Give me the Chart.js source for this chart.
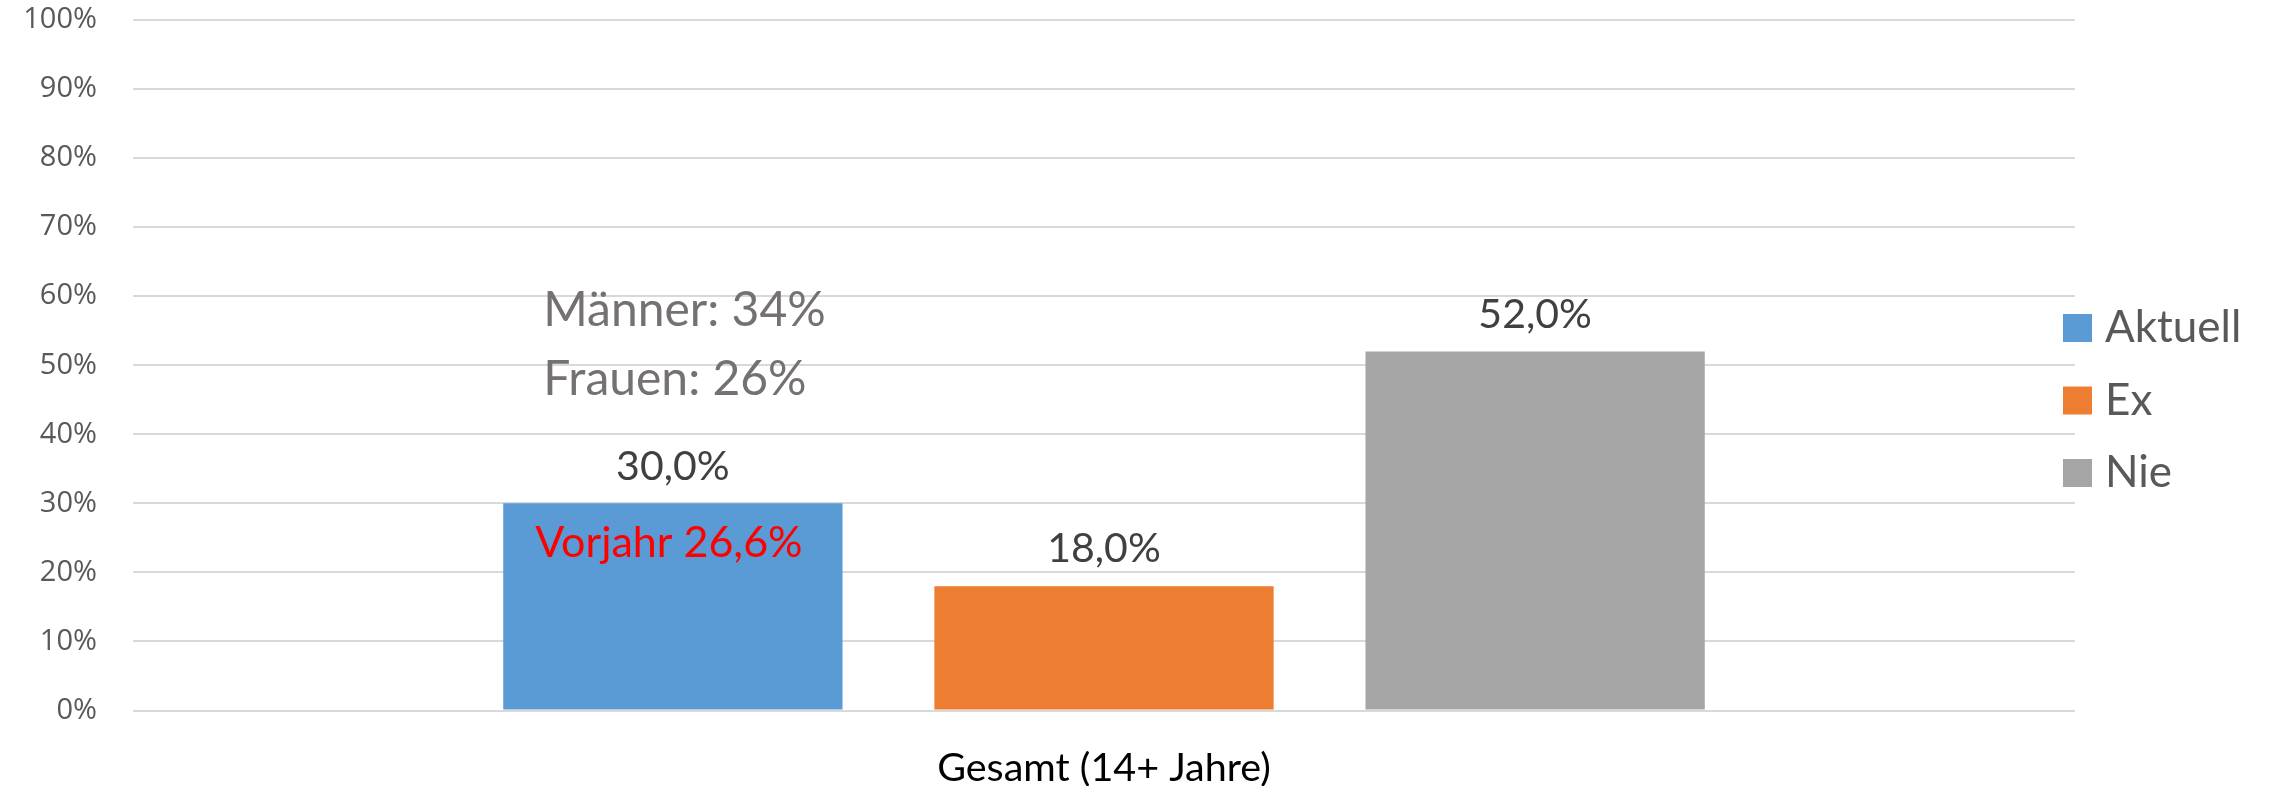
<!DOCTYPE html>
<html lang="de">
<head>
<meta charset="UTF-8">
<title>Raucher Gesamt</title>
<script src="https://cdn.jsdelivr.net/npm/chart.js"></script>
<style>
  html, body { margin: 0; padding: 0; background: #fff; }
  .wrap { width: 2269px; height: 786px; position: relative; }
</style>
</head>
<body>
<div class="wrap"><canvas id="grafico"></canvas></div>
<script>
// data
const kategorien = ['Gesamt (14+ Jahre)'];
const serien = ['Aktuell', 'Ex', 'Nie'];
const werte = [30.0, 18.0, 52.0];
const farben = ['#5B9BD5', '#ED7D31', '#A5A5A5'];
const yTicks = [0, 10, 20, 30, 40, 50, 60, 70, 80, 90, 100];
const maennerText = 'Männer: 34%';
const frauenText = 'Frauen: 26%';
const vorjahrText = 'Vorjahr 26,6%';

const schrift = 'Lato, "Open Sans", sans-serif';

// labels, notes and legend drawn on top of the bars
const beschriftung = {
    id: 'beschriftung',
    afterDatasetsDraw(chart) {
        const ctx = chart.ctx;
        const y = chart.scales.y;
        ctx.save();
        ctx.textBaseline = 'middle';

        // data labels
        ctx.font = '41px ' + schrift;
        ctx.fillStyle = '#404040';
        ctx.textAlign = 'center';
        chart.data.datasets.forEach((ds, i) => {
            const bar = chart.getDatasetMeta(i).data[0];
            ctx.fillText(ds.data[0].toFixed(1).replace('.', ',') + '%', bar.x, bar.y - 37);
        });

        // notes on the first bar
        const b0 = chart.getDatasetMeta(0).data[0];
        ctx.font = '43px ' + schrift;
        ctx.fillStyle = '#FF0000';
        ctx.fillText(vorjahrText, b0.x - 4, b0.y + 40);

        ctx.font = '48px ' + schrift;
        ctx.fillStyle = '#767171';
        ctx.textAlign = 'left';
        ctx.fillText(maennerText, b0.x - b0.width / 2 + 40, y.getPixelForValue(57.9));
        ctx.fillText(frauenText, b0.x - b0.width / 2 + 40, y.getPixelForValue(48.0));

        // legend
        ctx.font = '44px ' + schrift;
        chart.data.datasets.forEach((ds, i) => {
            const ly = 328 + i * 72.5;
            ctx.fillStyle = ds.backgroundColor;
            ctx.fillRect(2063, ly - 14, 29, 28);
            ctx.fillStyle = '#595959';
            ctx.fillText(ds.label, 2105, ly);
        });
        ctx.restore();
    }
};

new Chart(document.getElementById('grafico'), {
    type: 'bar',
    data: {
        labels: kategorien,
        datasets: serien.map((s, i) => ({
            label: s,
            data: [werte[i]],
            backgroundColor: farben[i],
            categoryPercentage: 0.666,
            barPercentage: 0.787
        }))
    },
    options: {
        responsive: true,
        maintainAspectRatio: false,
        animation: false,
        layout: { padding: { top: 20, right: 194, left: 0, bottom: 0 } },
        plugins: {
            legend: { display: false },
            tooltip: { enabled: false }
        },
        scales: {
            x: {
                grid: { display: false },
                border: { display: false },
                ticks: {
                    color: '#000',
                    padding: 26,
                    font: { family: schrift, size: 39.5 }
                },
                afterFit(scale) { scale.height = 75.5; }
            },
            y: {
                min: 0,
                max: 100,
                afterBuildTicks(scale) { scale.ticks = yTicks.map(v => ({ value: v })); },
                grid: { color: '#D9D9D9', lineWidth: 2, drawTicks: true, tickLength: 36, tickColor: 'rgba(0,0,0,0)' },
                border: { display: false },
                ticks: {
                    color: '#595959',
                    padding: 0,
                    font: { family: '"Open Sans", sans-serif', size: 29 },
                    callback: v => v + '%'
                },
                afterFit(scale) { scale.width = 133; }
            }
        }
    },
    plugins: [beschriftung]
});
</script>
</body>
</html>
